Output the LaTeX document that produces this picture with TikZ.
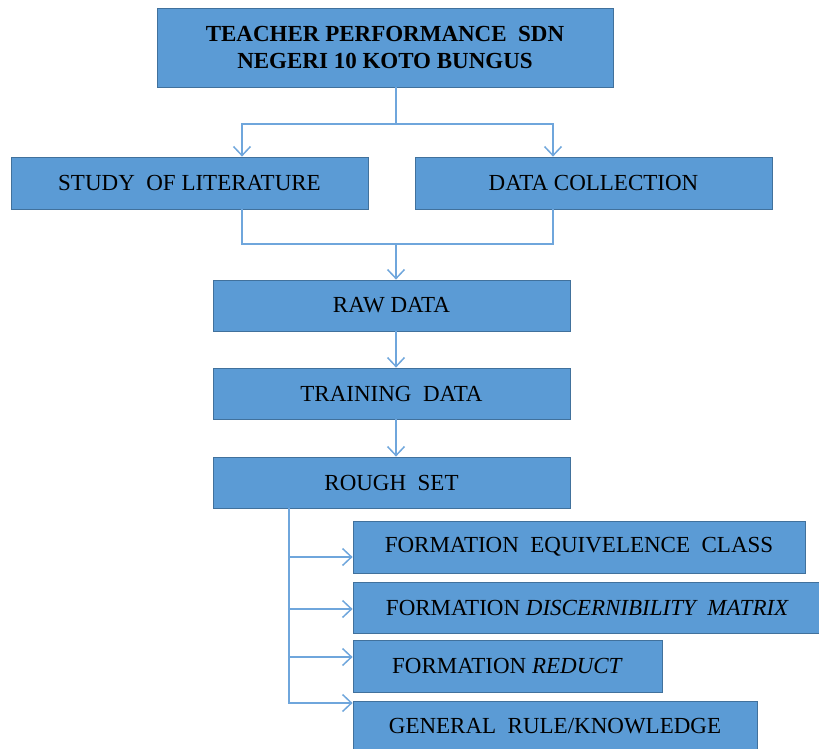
\documentclass[tikz,border=0pt]{standalone}
\usepackage{fontspec}
\setmainfont{Liberation Serif}
\usetikzlibrary{arrows.meta}
\definecolor{boxfill}{HTML}{5B9BD5}
\definecolor{boxline}{HTML}{41719C}
\definecolor{linkblue}{HTML}{6FA6DC}
\tikzset{
  box/.style={rectangle, fill=boxfill, draw=boxline, line width=0.8pt,
    inner sep=0pt, font=\fontsize{23}{27}\selectfont, text=black},
  wide/.style={box, minimum width=357pt, minimum height=52pt},
  link/.style={draw=linkblue, line width=1.5pt},
  arr/.style={link, -{Straight Barb[length=9pt,width=17pt,line width=1.5pt]}}
}
\begin{document}
\begin{tikzpicture}[x=1pt,y=-1pt]
\useasboundingbox (0,0) rectangle (819,749);
\begin{scope}
\clip (0,0) rectangle (819,749);

% process boxes
\node[box, minimum width=456pt, minimum height=79pt, align=center,
  font=\fontsize{23}{27}\selectfont\bfseries] (top) at (385,47.5)
  {TEACHER PERFORMANCE\ \ SDN\\NEGERI 10 KOTO BUNGUS};
\node[wide] (study) at (189.5,183) {STUDY\ \ OF LITERATURE};
\node[wide] (collect) at (593.5,183) {DATA COLLECTION};
\node[wide, minimum height=51pt] (raw) at (391.5,305.5) {RAW DATA};
\node[wide, minimum height=51pt] (train) at (391.5,393.5) {TRAINING\ \ DATA};
\node[wide, minimum height=51pt] (rough) at (391.5,482.5) {ROUGH\ \ SET};

% rough set outputs
\node[box, minimum width=452pt, minimum height=52pt] (eq) at (579,547)
  {FORMATION\ \ EQUIVELENCE\ \ CLASS};
\node[box, minimum width=469pt, minimum height=51pt] (disc) at (587.5,607.5)
  {FORMATION \textit{DISCERNIBILITY\ \ MATRIX}};
\node[box, minimum width=309pt, minimum height=52pt] (red) at (507.5,666)
  {FORMATION \textit{REDUCT}};
\node[box, minimum width=404pt, minimum height=51pt] (gen) at (555,726.5)
  {GENERAL\ \ RULE/KNOWLEDGE};

% split below the title box
\coordinate (split) at (396,124);
\draw[link] (top.south -| split) -- (split);
\draw[arr] (split) -| ([xshift=52.5pt]study.north);
\draw[arr] (split) -| ([xshift=-40.5pt]collect.north);

% merge into raw data
\coordinate (merge) at (396,244);
\draw[link] ([xshift=52.5pt]study.south) |- (merge);
\draw[link] ([xshift=-40.5pt]collect.south) |- (merge);
\draw[arr] (merge) -- ([xshift=4.5pt]raw.north);

% main chain
\draw[arr] ([xshift=4.5pt]raw.south) -- ([xshift=4.5pt]train.north);
\draw[arr] ([xshift=4.5pt]train.south) -- ([xshift=4.5pt]rough.north);

% branches from rough set
\coordinate (trunk) at ([xshift=-102.5pt]rough.south);
\draw[arr] (trunk) |- ([yshift=-10pt]eq.west);
\draw[arr] (trunk) |- ([yshift=-1.5pt]disc.west);
\draw[arr] (trunk) |- ([yshift=9pt]red.west);
\draw[arr] (trunk) |- ([yshift=23.5pt]gen.west);
\end{scope}
\end{tikzpicture}
\end{document}
